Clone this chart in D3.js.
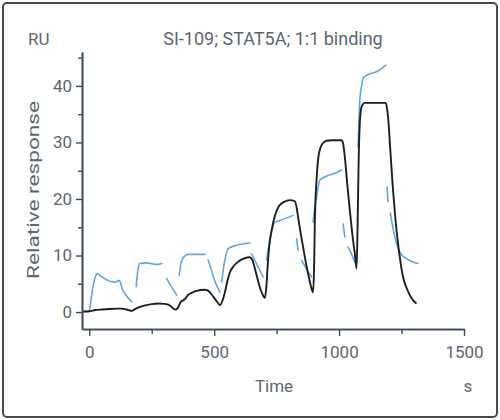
<!DOCTYPE html>
<html>
<head>
<meta charset="utf-8">
<script src="https://cdn.jsdelivr.net/npm/d3@7"></script>
<style>
  html, body { margin: 0; padding: 0; background: #fff; }
  svg { display: block; font-family: Roboto, "Noto Sans", sans-serif; }
</style>
</head>
<body>
<svg id="chart" width="500" height="420"></svg>
<script>
// ---- data ----
const titleText = "SI-109; STAT5A; 1:1 binding";
const xMajorTicks = [0, 500, 1000, 1500];
const xMinorTicks = [250, 750, 1250];
const yMajorTicks = [0, 10, 20, 30, 40];
const yMinorTicks = [5, 15, 25, 35, 45];

// fitted 1:1 binding curve
const fitTime = [-24, 0, 25, 50, 80, 110, 130, 150, 170,
  185, 200, 220, 250, 275, 300, 316, 330, 343,
  352, 365, 383, 395, 410, 430, 463, 478, 490, 505, 515, 523,
  533, 543, 553, 563, 576, 596, 620, 643, 652, 660, 670, 680, 690, 703,
  708, 714, 720, 730, 743, 760, 780, 803, 823, 830, 836, 846, 856, 866, 876, 886, 896,
  900, 903, 910, 916, 925, 936, 950, 970, 1010, 1016, 1023, 1033, 1043, 1053, 1063, 1070,
  1074, 1078, 1083, 1090, 1103, 1187, 1192, 1196, 1206, 1216, 1226, 1236, 1246, 1256, 1270, 1283, 1296, 1310];
const fitResp = [0.1, 0.15, 0.35, 0.45, 0.55, 0.6, 0.6, 0.45, 0.2,
  0.55, 0.85, 1.15, 1.4, 1.5, 1.45, 1.3, 0.9, 0.45,
  0.6, 1.7, 2.3, 3.0, 3.4, 3.75, 3.95, 3.7, 3.1, 2.2, 1.6, 1.2,
  2.0, 3.5, 5.5, 7.0, 8.0, 8.9, 9.5, 9.7, 9.3, 8.2, 6.5, 4.8, 3.5, 2.5,
  4.0, 8.0, 11.5, 14.5, 17.0, 18.8, 19.5, 19.8, 19.6, 18.5, 16.8, 14.0, 11.5, 9.0, 6.8, 4.8, 3.5,
  8.0, 16.0, 23.5, 27.0, 29.0, 29.9, 30.3, 30.4, 30.4, 29.8, 27.4, 22.5, 18.0, 13.8, 10.3, 7.7,
  15.0, 26.0, 33.5, 36.3, 37.0, 37.0, 36.0, 34.5, 28.0, 21.5, 16.2, 12.1, 8.8, 6.2, 4.3, 3.0, 2.1, 1.5];

// measured sensorgram (null = removed spike / gap)
const dataTime = [-20, 0, 5, 15, 25, 32, 45, 70, 96, 110, 120, 135, 150, 170, null,
  188, 195, 203, 230, 270, 290, null,
  310, 330, 350, null,
  360, 368, 380, 396, 463, null,
  476, 490, 505, 523, null,
  530, 540, 556, 590, 643, null,
  650, 670, 696, null,
  710, 723, 743, 763, 816, null,
  830, 836, null,
  850, 870, 890, null,
  896, 903, 910, 923, 943, 980, 1010, null,
  1016, 1023, null,
  1036, 1050, 1063, null,
  1076, 1083, 1090, 1096, 1110, 1150, 1187, null,
  1192, 1196, null,
  1205, 1223, 1243, 1270, 1316];
const dataResp = [0.1, 0.1, 1.5, 4.5, 6.3, 6.8, 6.4, 5.7, 5.3, 5.4, 5.6, 3.8, 2.8, 1.8, null,
  4.5, 7.5, 8.6, 8.7, 8.4, 8.6, null,
  5.9, 4.4, 3.0, null,
  6.5, 8.8, 9.8, 10.2, 10.2, null,
  9.2, 7.2, 5.2, 3.5, null,
  5.3, 8.5, 11.2, 11.8, 12.2, null,
  10.3, 8.5, 6.2, null,
  9.2, 12.7, 15.9, 16.2, 17.1, null,
  13.0, 10.9, null,
  9.15, 7.6, 6.2, null,
  15.9, 18.5, 20.4, 23.3, 23.9, 24.5, 25.1, null,
  15.6, 13.3, null,
  11.5, 10.2, 8.85, null,
  29.2, 37.5, 40.0, 41.3, 41.9, 42.5, 43.7, null,
  22.1, 19.5, null,
  17.5, 13.3, 10.6, 9.45, 8.6];

// ---- drawing ----
const svg = d3.select("#chart");
const textColor = "#5d6670";
const axisColor = "#3a4a5c";

svg.append("rect")
  .attr("x", 3).attr("y", 3).attr("width", 494).attr("height", 414)
  .attr("rx", 4)
  .attr("fill", "#fff").attr("stroke", "#4a4a4a").attr("stroke-width", 2);

const x = d3.scaleLinear().domain([-29, 1500]).range([82, 464]);
const y = d3.scaleLinear().domain([-3, 46]).range([329, 52]);

function styleAxis(g) {
  g.select(".domain").attr("stroke", axisColor).attr("stroke-width", 1.6);
  g.selectAll(".tick line").attr("stroke", axisColor).attr("stroke-width", 1.4);
  g.selectAll(".tick text").attr("fill", textColor).attr("font-size", 17)
    .attr("font-family", "Roboto, sans-serif");
}

// x axis
const gxMinor = svg.append("g").attr("transform", "translate(0,329)")
  .call(d3.axisBottom(x).tickValues(xMinorTicks).tickSize(5).tickSizeOuter(0).tickFormat(""));
styleAxis(gxMinor);
const gx = svg.append("g").attr("transform", "translate(0,329)")
  .call(d3.axisBottom(x).tickValues(xMajorTicks).tickSize(7).tickSizeOuter(0)
    .tickPadding(10).tickFormat(d3.format("d")));
styleAxis(gx);

// y axis
const gyMinor = svg.append("g").attr("transform", "translate(82,0)")
  .call(d3.axisLeft(y).tickValues(yMinorTicks).tickSize(4).tickSizeOuter(0).tickFormat(""));
styleAxis(gyMinor);
const gy = svg.append("g").attr("transform", "translate(82,0)")
  .call(d3.axisLeft(y).tickValues(yMajorTicks).tickSize(6).tickSizeOuter(0)
    .tickPadding(4).tickFormat(d3.format("d")));
styleAxis(gy);

// lines
const fitPts = fitTime.map((t, i) => [t, fitResp[i]]);
const dataPts = dataTime.map((t, i) => [t, dataResp[i]]);

const line = d3.line()
  .defined(d => d[0] !== null && d[1] !== null)
  .x(d => x(d[0])).y(d => y(d[1]))
  .curve(d3.curveMonotoneX);

svg.append("path").datum(dataPts)
  .attr("d", line).attr("fill", "none")
  .attr("stroke", "#5ea6e2").attr("stroke-width", 1.6)
  .attr("stroke-linejoin", "round").attr("stroke-linecap", "round");

svg.append("path").datum(fitPts)
  .attr("d", line).attr("fill", "none")
  .attr("stroke", "#1e1e1e").attr("stroke-width", 1.9)
  .attr("stroke-linejoin", "round");

// texts
svg.append("text").attr("x", 273).attr("y", 45).attr("text-anchor", "middle")
  .attr("font-size", 18).attr("fill", textColor).text(titleText);
svg.append("text").attr("x", 28).attr("y", 45)
  .attr("font-size", 17).attr("fill", textColor).text("RU");
svg.append("text").attr("x", 274).attr("y", 392).attr("text-anchor", "middle")
  .attr("font-size", 17).attr("fill", textColor).text("Time");
svg.append("text").attr("x", 468).attr("y", 392).attr("text-anchor", "middle")
  .attr("font-size", 17).attr("fill", textColor).text("s");
svg.append("text")
  .attr("transform", "translate(39,190) rotate(-90)")
  .attr("text-anchor", "middle")
  .attr("font-size", 17).attr("fill", textColor)
  .attr("textLength", 178).attr("lengthAdjust", "spacingAndGlyphs")
  .text("Relative response");
</script>
</body>
</html>
